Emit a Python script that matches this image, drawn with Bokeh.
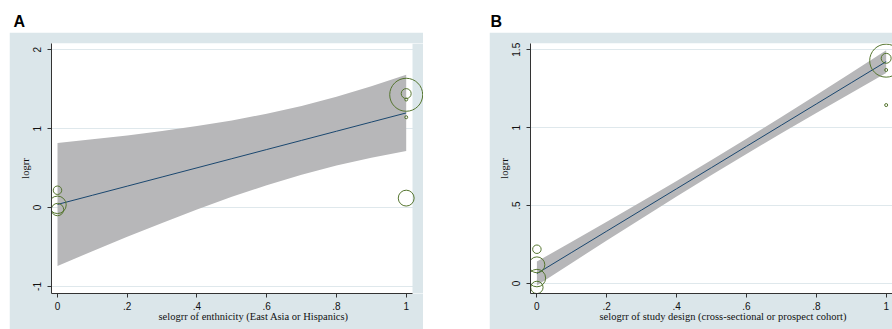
import math
from bokeh.plotting import figure
from bokeh.layouts import column, row
from bokeh.models import Range1d, FixedTicker, CustomJSTickFormatter, BoxAnnotation, Title, Spacer
from bokeh.core.properties import value
from bokeh.embed import file_html
from bokeh.resources import INLINE

# ---- data ----
logrr = [0.22, 0.12, 0.035, -0.025, 1.43, 1.445, 1.37, 1.145]
weight = [8, 28, 34, 17, 121, 11, 1, 1]
ethnicity = [0, 1, 0, 0, 1, 1, 1, 1]
design = [0, 0, 0, 0, 1, 1, 1, 1]

grid_x = [0.0, 0.1, 0.2, 0.3, 0.4, 0.5, 0.6, 0.7, 0.8, 0.9, 1.0]
fit_a = [0.04, 0.156, 0.272, 0.388, 0.504, 0.62, 0.736, 0.852, 0.968, 1.084, 1.2]
upper_a = [0.82, 0.865, 0.915, 0.97, 1.033, 1.104, 1.189, 1.288, 1.404, 1.537, 1.684]
lower_a = [-0.74, -0.553, -0.371, -0.194, -0.025, 0.136, 0.283, 0.416, 0.532, 0.631, 0.716]
fit_b = [0.064, 0.2, 0.336, 0.472, 0.608, 0.744, 0.88, 1.016, 1.152, 1.288, 1.424]
upper_b = [0.141, 0.268, 0.396, 0.526, 0.658, 0.792, 0.929, 1.068, 1.21, 1.353, 1.497]
lower_b = [-0.013, 0.132, 0.276, 0.418, 0.558, 0.696, 0.831, 0.964, 1.094, 1.223, 1.351]

xticks = [0, 0.2, 0.4, 0.6, 0.8, 1]
yticks_a = [-1, 0, 1, 2]
yticks_b = [0, 0.5, 1, 1.5]
panel_labels = ["A", "B"]
xtitle_a = "selogrr of enthnicity (East Asia or Hispanics)"
xtitle_b = "selogrr of study design (cross-sectional or prospect cohort)"
ytitle = "logrr"

# ---- styles ----
BG = "#dbe6ea"
GRID = "#dfe8ec"
BAND = "#b7b7b9"
NAVY = "#1a476f"
GREEN = "#55752f"
AXC = "#333333"
TXT = "#111111"
SANS = "Liberation Sans"
SERIF = "Liberation Serif"

sizes = [3.0 * math.sqrt(w) for w in weight]

FMT = CustomJSTickFormatter(code="""
let s = tick.toFixed(1);
if (s.endsWith('.0')) s = s.slice(0, -2);
s = s.replace(/^(-?)0\\./, '$1.');
return s;
""")


def panel(xvals, fit, up, lo, yticks, xr, yr, width, ml, mr, region_right, xtitle, title_left):
    p = figure(width=width, height=297, x_range=Range1d(*xr), y_range=Range1d(*yr),
               output_backend="svg", toolbar_location=None,
               min_border_left=ml, min_border_right=mr, min_border_top=11, min_border_bottom=36,
               background_fill_color="white", border_fill_color=BG, outline_line_color=None)
    p.xgrid.visible = False
    p.ygrid.ticker = FixedTicker(ticks=yticks)
    p.ygrid.grid_line_color = GRID
    p.ygrid.grid_line_width = 1
    p.ygrid.bounds = (xr[0], region_right)
    if region_right < xr[1]:
        p.add_layout(BoxAnnotation(left=region_right, fill_color=BG, fill_alpha=1.0,
                                   line_color=None, level="underlay"))
    for ax in (p.xaxis[0], p.yaxis[0]):
        ax.axis_line_color = AXC
        ax.major_tick_line_color = AXC
        ax.major_tick_out = 4
        ax.major_tick_in = 0
        ax.minor_tick_line_color = None
        ax.major_label_text_font = SANS
        ax.major_label_text_font_size = "10px"
        ax.major_label_text_color = TXT
        ax.formatter = FMT
    p.xaxis.ticker = FixedTicker(ticks=xticks)
    p.xaxis.bounds = (xr[0], region_right)
    p.xaxis.major_label_standoff = 4
    p.yaxis.ticker = FixedTicker(ticks=yticks)
    p.yaxis.major_label_orientation = "vertical"
    p.yaxis.major_label_standoff = 6
    p.yaxis.axis_label = ytitle
    p.yaxis.axis_label_text_font = SERIF
    p.yaxis.axis_label_text_font_style = "normal"
    p.yaxis.axis_label_text_font_size = "10.5px"
    p.yaxis.axis_label_text_color = TXT
    p.yaxis.axis_label_standoff = 0

    p.varea(x=grid_x, y1=lo, y2=up, fill_color=BAND, fill_alpha=1.0)
    p.line(x=grid_x, y=fit, line_color=NAVY, line_width=1)
    p.scatter(x=xvals, y=logrr, size=sizes, marker="circle", fill_color=None,
              line_color=GREEN, line_width=1)

    p.add_layout(Title(text=xtitle, align="left", offset=title_left, standoff=-8,
                       text_font=SERIF, text_font_style="normal", text_font_size="10.5px",
                       text_color=TXT), "below")
    return p


pa = panel(ethnicity, fit_a, upper_a, lower_a, yticks_a, (-0.0172, 1.0496), (-1.089, 2.08),
           414, 42, 0, 1.0181, xtitle_a, 107)
pb = panel(design, fit_b, upper_b, lower_b, yticks_b, (-0.0183, 1.0181), (-0.064, 1.540),
           403, 41, 0, 1.0181, xtitle_b, 69)

strip = figure(width=892, height=32, x_range=Range1d(0, 892), y_range=Range1d(0, 32),
               output_backend="svg", toolbar_location=None, min_border=0,
               outline_line_color=None, background_fill_color="white", border_fill_color="white")
strip.axis.visible = False
strip.grid.visible = False
strip.text(x=[13, 490], y=[11.5, 11.5], text=panel_labels, text_font=value(SANS), text_font_style="bold",
           text_font_size="16px", text_baseline="middle", text_color="#000000")

layout = column(strip, row(Spacer(width=9, height=297), pa, Spacer(width=66, height=297), pb))

open("out.html", "w").write(file_html(layout, INLINE))
